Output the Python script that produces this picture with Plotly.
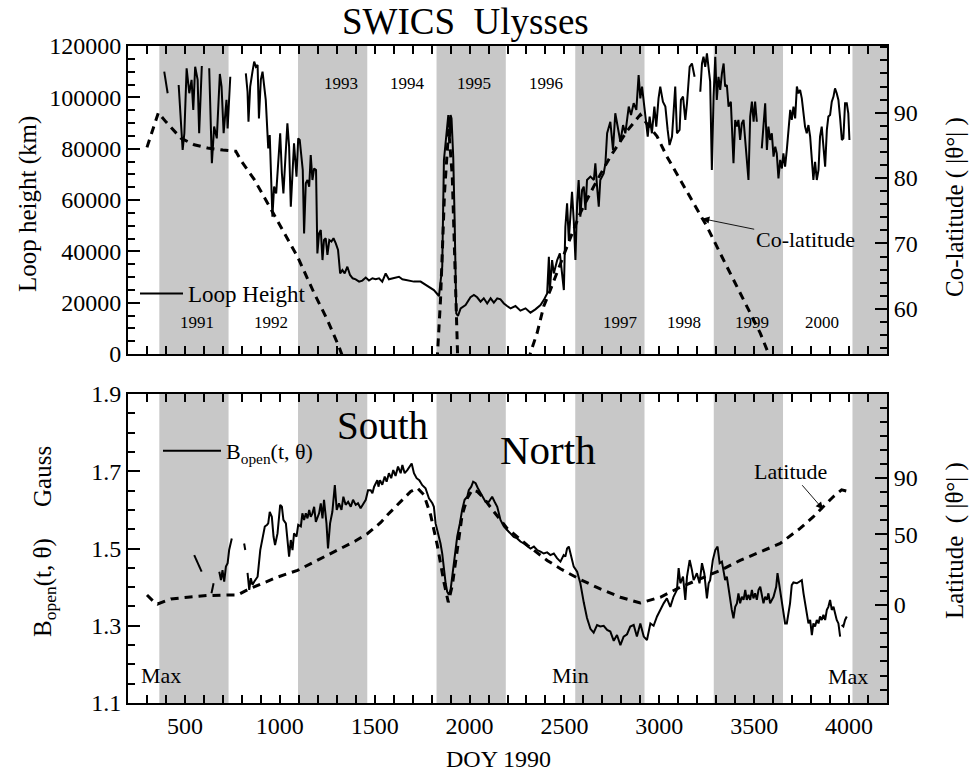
import plotly.graph_objects as go

FONT = "Liberation Serif"
W, H = 970, 774
NB = "\u00a0"

# ---------------- data ----------------
# Loop height (km) vs DOY since 1990 (None = gap)
loop_doy = [391, 409, None,
            467, 479, 488, 497, 509, 523, 535, 544, 554, 567, 575, 589, None,
            628, 642, 654, 668, 684, 693, 704, 719, 725, 739, None,
            821, 830, 835, 844, 856, 865, 874, 883, 890, 900, 909, 918, 926, 939, 947, 961, 970, 981, 991,
            1002, 1011, 1019, 1030, 1040, 1049, 1058, 1067, 1075, 1088, 1097, 1105, 1114, 1121, 1128, 1137,
            1146, 1155, 1163, 1172, 1181, 1191, 1198, 1207, 1216, 1225, 1233, 1242, 1251, 1261, 1272, 1283,
            1295, 1307, 1318, 1330, 1342, 1356, 1370, 1384, 1400, 1418, 1435, 1453, 1470, 1488, 1505, 1523,
            1540, 1558, 1575, 1602, 1628, 1646, 1672, 1707, 1742, 1760, 1786, 1812, 1839, 1856, 1865, 1874,
            1882, 1888, 1897, 1900, 1905, 1914, 1921, 1930, 1939, 1953, 1979, 2005, 2023, 2040, 2058, 2075,
            2093, 2111, 2128, 2146, 2163, 2181, 2198, 2216, 2242, 2268, 2295, 2321, 2347, 2374, 2391, 2409,
            2418, 2423, 2435, 2444, 2453, 2462, 2476, 2488, 2497, 2505, 2514, 2523, 2532, 2540, 2549, 2558,
            2567, 2575, 2584, 2593, 2602, 2611, 2619, 2637, 2655, 2663, 2672, 2681, 2689, 2707, 2716, 2725,
            2742, 2756, 2768, 2781, 2795, 2809, 2821, 2839, 2851, 2865, 2879, 2891, 2900, 2909, 2918, 2930,
            2939, 2949, 2961, 2974, 2984, 2996, 3005, 3019, 3032, 3044, 3054, 3067, 3075, 3084, 3093, 3107,
            3114, 3125, 3137, 3146, 3160, 3172, 3186, None,
            3216, 3225, 3233, 3242, 3251, 3263, 3268, 3277, 3286, 3295, 3303, 3312, 3321, 3330, 3339, 3347,
            3356, 3365, 3377, 3391, 3400, 3409, 3417, 3426, 3435, 3444, 3453, 3461, 3470, 3479, 3488, 3497,
            3505, 3514, None,
            3540, 3549, 3558, 3567, 3575, 3584, 3593, 3602, 3611, 3619, 3628, 3637, 3646, 3654, 3663, 3672,
            3681, 3690, 3698, 3707, 3716, 3725, 3733, 3742, 3751, 3760, 3768, 3777, 3786, 3795, 3804, 3812,
            3821, 3830, 3839, 3847, 3856, 3865, 3874, 3883, 3891, 3900, 3909, 3918, 3926, 3935, 3944, 3953,
            3962, 3970, 3979, 3988, 3996, 4002]
loop_km = [110000, 101600, None,
           104800, 87300, 79500, 86000, 111300, 101600, 106800, 95100, 111900, 106800, 86000, 112200, None,
           111300, 74300, 88600, 84000, 109100, 104200, 86000, 99000, 87900, 108000, None,
           109300, 102200, 90500, 104200, 110000, 113900, 111900, 112600, 91800, 106800, 110000, 102900, 99000, 80100, 85300, 53500, 65200, 62600, 73000,
           86000, 70400, 62600, 76900, 89900, 80800, 57400, 70400, 82100, 69100, 84000, 83400, 75600, 71700, 47000, 66500,
           67800, 65200, 77500, 67800, 72300, 71700, 39200, 47000, 48300, 36600, 44400, 45100, 38600, 44400, 43800, 45100,
           43100, 40500, 31400, 32700, 31400, 34000, 30800, 29500, 29100, 28200, 28600, 29800, 28600, 29500, 29100, 29500,
           28200, 31400, 29100, 29500, 30100, 29100, 28800, 28200, 28200, 27300, 26200, 24900, 22600, 34000, 75600, 82100,
           87300, 93100, 84700, 93100, 91800, 76900, 53500, 15800, 14800, 17800, 19100, 22100, 23000, 22100, 20400, 21700,
           19700, 21700, 20000, 21700, 21300, 19700, 18700, 17800, 18700, 16900, 17800, 16100, 17400, 19100, 21000, 23600,
           37900, 24900, 36600, 31400, 34000, 36600, 39200, 31400, 24900, 49600, 58700, 44400, 53500, 63200, 52200, 36600,
           58700, 67800, 53500, 63900, 65200, 56100, 67800, 69100, 67800, 74300, 65200, 57400, 67800, 70400, 74300, 86000,
           90500, 79500, 93800, 88600, 82700, 89200, 86000, 96400, 93100, 97700, 95100, 108700, 99600, 104200, 97700, 91200,
           84700, 92500, 86000, 96400, 88600, 99600, 104200, 98300, 96400, 87300, 81400, 84700, 92500, 104200, 86000, 87300,
           99000, 100300, 91200, 97700, 111900, 113200, 108000, None,
           102200, 113200, 115800, 111900, 117100, 109300, 106100, 71700, 100300, 115800, 99000, 108000, 102900, 109300, 113200, 104200,
           104800, 96400, 98300, 74300, 91200, 88600, 91200, 83400, 89900, 91200, 82700, 76900, 67800, 92500, 98300, 90500,
           98300, 90500, None,
           80100, 87300, 97700, 79500, 88600, 83400, 86000, 76900, 80800, 78200, 68400, 75600, 72300, 78200, 73000, 79500,
           88600, 95100, 91200, 96400, 91800, 104200, 101600, 102900, 99600, 92500, 88600, 86000, 89200, 84700, 73600, 67800,
           74900, 67800, 71700, 84700, 88600, 80800, 73000, 87300, 92500, 93100, 98300, 100300, 103500, 101600, 99000, 91800,
           83400, 84000, 97700, 97700, 93800, 83400]

# Co-latitude (deg) vs DOY, top panel dashed
colat_doy = [300, 330, 360, 400, 450, 479, 549, 619, 700, 768, 800, 865, 935, 1005, 1093, 1181, 1251, 1312, 1340, None,
             1825, 1847, 1868, 1890, 1909, 1921, 1932, 1940, None,
             2300, 2321, 2356, 2391, 2426, 2462, 2500, 2540, 2584, 2654, 2742, 2830, 2900, 2935, 2988, 3040, 3110,
             3181, 3251, 3321, 3391, 3461, 3532, 3575, 3600]
colat_deg = [84.7, 87.5, 90.0, 88.6, 87.1, 86.1, 85.1, 84.6, 84.3, 84.1, 82.5, 79.8, 76.2, 72.6, 68.0, 62.4, 58.3, 54.2, 52.0, None,
             50.0, 61.4, 77.7, 87.5, 80.3, 67.5, 54.8, 50.0, None,
             50.0, 53.3, 56.3, 60.4, 62.9, 65.5, 68.5, 71.5, 74.7, 78.7, 83.3, 87.2, 89.7, 88.3, 86.4, 83.3, 79.8,
             76.2, 72.6, 68.5, 64.4, 60.4, 56.3, 53.2, 51.0]

# B_open (Gauss) vs DOY, bottom panel solid
bopen_doy = [549, 560, 570, 588, None, 640, 651, None,
             681, 690, 698, 707, 716, 725, 733, 747, None, 812, 818, None,
             830, 839, 847, 856, 865, 883, 897, 909, 921, 932, 939, 947, 958, 967, 975, 988, 1002, 1011, 1019, 1032,
             1040, 1049, 1058, 1067, 1075, 1088, 1097, 1111, 1119, 1128, 1137, 1146, 1155, 1163, 1172, 1181, 1190,
             1198, 1207, 1216, 1225, 1233, 1246, 1254, 1265, 1277, 1290, 1300, 1312, 1325, 1335, 1347, 1360, 1374,
             1386, 1400, 1412, 1426, 1440, 1453, 1465, 1479, 1488, 1497, 1514, 1520, 1528, 1540, 1553, 1563, 1575,
             1587, 1598, 1610, 1623, 1637, 1646, 1658, 1672, 1685, 1695, 1707, 1721, 1735, 1751, 1768, 1786, 1804,
             1812, 1821, 1830, 1839, 1847, 1856, 1865, 1874, 1882, 1891, 1900, 1909, 1918, 1926, 1935, 1949, 1961,
             1974, 1988, 1996, 2009, 2019, 2032, 2044, 2058, 2072, 2084, 2102, 2119, 2132, 2146, 2163, 2181, 2198,
             2216, 2233, 2251, 2268, 2286, 2304, 2321, 2339, 2356, 2374, 2391, 2409, 2426, 2444, 2461, 2479, 2496,
             2505, 2514, 2523, 2535, 2549, 2567, 2584, 2602, 2619, 2637, 2654, 2672, 2689, 2707, 2725, 2742, 2760,
             2777, 2795, 2812, 2830, 2847, 2865, 2882, 2900, 2918, 2935, 2953, 2970, 2988, 3005, 3023, 3040, 3058,
             3075, 3093, 3102, 3111, 3125, 3137, 3146, 3160, 3172, 3181, 3190, 3198, 3212, 3225, 3237, 3251, 3260,
             3268, 3282, 3295, 3307, 3318, 3330, 3339, 3347, 3356, 3365, 3374, 3382, 3391, 3400, 3409, 3417, 3426,
             3435, 3444, 3453, 3461, 3470, 3479, 3488, 3496, 3505, 3514, 3523, 3532, 3540, 3549, 3558, 3567, 3575,
             3584, 3602, 3616, 3623, 3637, 3651, 3663, 3672, 3689, 3698, 3707, 3725, 3742, 3751, 3760, 3768, 3777,
             3786, 3795, 3804, 3812, 3821, 3830, 3839, 3847, 3856, 3865, 3874, 3883, 3891, 3900, 3909, 3918, 3926,
             3935, 3944, 3953, None, 3961, 3970, 3979, 3988]
bopen_gauss = [1.483, 1.470, 1.462, 1.440, None, 1.384, 1.410, None,
               1.440, 1.418, 1.444, 1.414, 1.453, 1.462, 1.496, 1.526, None, 1.513, 1.496, None,
               1.437, 1.393, 1.423, 1.406, 1.414, 1.427, 1.496, 1.531, 1.557, 1.561, 1.565, 1.595, 1.582, 1.531, 1.509, 1.539, 1.613, 1.608, 1.574, 1.565,
               1.531, 1.479, 1.522, 1.496, 1.539, 1.531, 1.561, 1.557, 1.591, 1.574, 1.591, 1.578, 1.600, 1.582, 1.591, 1.608, 1.569,
               1.582, 1.591, 1.617, 1.578, 1.626, 1.565, 1.500, 1.565, 1.595, 1.664, 1.600, 1.617, 1.600, 1.634, 1.613, 1.621, 1.608,
               1.626, 1.613, 1.617, 1.604, 1.617, 1.626, 1.651, 1.651, 1.643, 1.660, 1.677, 1.660, 1.677, 1.665, 1.686, 1.673, 1.695,
               1.682, 1.703, 1.688, 1.712, 1.695, 1.716, 1.695, 1.703, 1.712, 1.720, 1.695, 1.682, 1.677, 1.664, 1.656, 1.630, 1.617,
               1.608, 1.565, 1.548, 1.531, 1.513, 1.487, 1.444, 1.410, 1.388, 1.380, 1.393, 1.427, 1.462, 1.496, 1.531, 1.565, 1.600,
               1.626, 1.634, 1.651, 1.660, 1.673, 1.669, 1.656, 1.643, 1.634, 1.621, 1.621, 1.634, 1.621, 1.608, 1.574, 1.557, 1.548,
               1.539, 1.530, 1.526, 1.518, 1.513, 1.505, 1.500, 1.505, 1.496, 1.492, 1.487, 1.490, 1.483, 1.487, 1.475, 1.466, 1.483,
               1.479, 1.500, 1.505, 1.479, 1.453, 1.440, 1.410, 1.360, 1.320, 1.292, 1.282, 1.302, 1.298, 1.300, 1.289, 1.285, 1.261,
               1.276, 1.250, 1.272, 1.278, 1.298, 1.302, 1.272, 1.306, 1.272, 1.263, 1.306, 1.300, 1.324, 1.341, 1.358, 1.371, 1.349,
               1.375, 1.393, 1.449, 1.410, 1.427, 1.367, 1.427, 1.470, 1.444, 1.418, 1.427, 1.436, 1.410, 1.462, 1.436, 1.371, 1.410,
               1.418, 1.470, 1.496, 1.505, 1.462, 1.466, 1.444, 1.418, 1.427, 1.393, 1.367, 1.341, 1.319, 1.349, 1.358, 1.384, 1.358,
               1.375, 1.367, 1.393, 1.367, 1.380, 1.367, 1.393, 1.371, 1.384, 1.367, 1.393, 1.401, 1.375, 1.358, 1.375, 1.367, 1.384,
               1.358, 1.375, 1.401, 1.436, 1.393, 1.349, 1.306, 1.306, 1.358, 1.405, 1.412, 1.410, 1.414, 1.418, 1.384, 1.358, 1.324,
               1.306, 1.315, 1.276, 1.306, 1.298, 1.315, 1.306, 1.324, 1.315, 1.328, 1.315, 1.341, 1.349, 1.367, 1.341, 1.349, 1.332,
               1.315, 1.306, 1.272, None, 1.302, 1.298, 1.315, 1.324]

# Heliographic latitude (|deg|) vs DOY, bottom panel dashed
lat_doy = [300, 330, 356, 426, 514, 619, 725, 777, 839, 900, 988, 1093, 1216, 1321, 1400, 1461, 1532, 1567, 1637,
           1690, 1725, 1760, 1795, 1830, 1865, 1888, 1909, 1935, 1961, 1988, 2014, 2040, 2075, 2128, 2198, 2304,
           2409, 2479, 2584, 2689, 2795, 2900, 3005, 3111, 3216, 3321, 3426, 3532, 3637, 3742, 3812, 3865, 3918,
           3961, 3996]
lat_deg = [7.1, 3.1, 0.7, 4.3, 5.5, 6.7, 7.1, 7.1, 11.4, 15.0, 19.8, 24.5, 32.9, 40.0, 45.5, 50.5, 58.5, 63.8, 73.3,
           80.5, 82.9, 78.0, 63.8, 42.4, 16.2, 1.9, 13.8, 40.0, 63.8, 75.7, 81.6, 80.5, 75.7, 66.2, 54.3, 42.4,
           31.6, 25.7, 18.0, 11.4, 5.5, 1.4, 5.5, 12.6, 18.6, 24.5, 31.6, 37.6, 43.6, 54.3, 62.6, 69.8, 76.9,
           81.6, 80.5]

# shaded (odd) years: start/end DOY
band_start = [365, 1096, 1826, 2557, 3287, 4018]
band_end = [730, 1461, 2191, 2922, 3652, 4383]

top_year_labels = ["1993", "1994", "1995", "1996"]
top_year_doy = [1321, 1674, 2021, 2405]
low_year_labels = ["1991", "1992", "1997", "1998", "1999", "2000"]
low_year_doy = [563, 953, 2795, 3132, 3489, 3858]

X_RANGE = [200, 4200]

# ---------------- figure ----------------
fig = go.Figure()

fig.add_trace(go.Scatter(x=loop_doy, y=loop_km, mode="lines", name="Loop Height",
                         line=dict(color="black", width=2), xaxis="x", yaxis="y",
                         connectgaps=False, legend="legend"))
fig.add_trace(go.Scatter(x=colat_doy, y=colat_deg, mode="lines", showlegend=False,
                         line=dict(color="black", width=3, dash="8px,6px"), xaxis="x", yaxis="y2",
                         connectgaps=False))
fig.add_trace(go.Scatter(x=bopen_doy, y=bopen_gauss, mode="lines", name="B<sub>open</sub>(t, θ)",
                         line=dict(color="black", width=2), xaxis="x2", yaxis="y3",
                         connectgaps=False, legend="legend2"))
fig.add_trace(go.Scatter(x=lat_doy, y=lat_deg, mode="lines", showlegend=False,
                         line=dict(color="black", width=3, dash="8px,6px"), xaxis="x2", yaxis="y4",
                         connectgaps=False))

xdom = [128 / W, 887 / W]
top_dom = [1 - 354 / H, 1 - 46 / H]
bot_dom = [1 - 703 / H, 1 - 394 / H]

tickfont = dict(family=FONT, size=24, color="black")
common = dict(showline=True, linecolor="black", linewidth=2, ticks="inside", tickcolor="black",
              tickwidth=1.5, showgrid=False, zeroline=False, tickfont=tickfont, automargin=False)

def minor(d, ln=7):
    return dict(dtick=d, ticks="inside", ticklen=ln, tickcolor="black", tickwidth=1.5, showgrid=False)

fig.update_layout(
    width=W, height=H, margin=dict(l=0, r=0, t=0, b=0, pad=0), autosize=False,
    paper_bgcolor="white", plot_bgcolor="white",
    font=dict(family=FONT, color="black"),
    xaxis=dict(domain=xdom, range=X_RANGE, anchor="y", mirror="allticks", tick0=0, dtick=500,
               ticklen=8, minor=minor(100, 7), showticklabels=False, **common),
    yaxis=dict(domain=top_dom, range=[0, 120000], anchor="x", dtick=20000, ticklen=12,
               tickformat="d", minor=minor(5000), **common),
    yaxis2=dict(range=[53.1, 100.2], overlaying="y", anchor="x", side="right",
                tickvals=[60, 70, 80, 90], ticklen=12, minor=minor(2), **common),
    xaxis2=dict(domain=xdom, range=X_RANGE, anchor="y3", mirror="allticks", tick0=0, dtick=500,
                ticklen=8, minor=minor(100, 7), **common),
    yaxis3=dict(domain=bot_dom, range=[1.1, 1.9], anchor="x2", tick0=1.1, dtick=0.2, ticklen=12,
                minor=minor(0.05), tickformat=".1f", **common),
    yaxis4=dict(range=[-69.5, 149.6], overlaying="y3", anchor="x2", side="right",
                tickvals=[0, 50, 90], ticklen=12, minor=minor(10), **common),
    legend=dict(x=135 / W, y=1 - 272 / H, xanchor="left", yanchor="top", bgcolor="rgba(0,0,0,0)",
                itemwidth=43, font=dict(family=FONT, size=23, color="black")),
    legend2=dict(x=158 / W, y=1 - 430 / H, xanchor="left", yanchor="top", bgcolor="rgba(0,0,0,0)",
                 itemwidth=58, font=dict(family=FONT, size=22, color="black")),
)

shapes = []
for s, e in zip(band_start, band_end):
    for xr, yr in (("x", "y domain"), ("x2", "y3 domain")):
        shapes.append(dict(type="rect", xref=xr, yref=yr, x0=s, x1=min(e, X_RANGE[1]), y0=0, y1=1,
                           fillcolor="#c8c8c8", line=dict(width=0), layer="below"))
fig.update_layout(shapes=shapes)

ann = []
def txt(x, y, s, size, xref="paper", yref="paper", angle=0):
    ann.append(dict(x=x, y=y, xref=xref, yref=yref, text=s, showarrow=False, textangle=angle,
                    xanchor="center", yanchor="middle",
                    font=dict(family=FONT, size=size, color="black")))

txt(465 / W, 1 - 21 / H, "SWICS" + NB * 2 + "Ulysses", 37)
for lab, d in zip(top_year_labels, top_year_doy):
    txt(d, 1 - 84 / H, lab, 17, xref="x")
for lab, d in zip(low_year_labels, low_year_doy):
    txt(d, 1 - 323 / H, lab, 17, xref="x")
txt(28 / W, 1 - 204 / H, "Loop height (km)", 25, angle=-90)
txt(955 / W, 1 - 207 / H, "Co-latitude ( |θ°| )", 25, angle=-90)
txt(44 / W, 1 - 542 / H, "B<sub>open</sub>(t, θ)" + NB * 5 + "Gauss", 25, angle=-90)
txt(955 / W, 1 - 541 / H, "Latitude" + NB * 2 + "( |θ°| )", 25, angle=-90)
txt(499 / W, 1 - 759 / H, "DOY 1990", 24)
txt(382 / W, 1 - 425 / H, "South", 39)
txt(548 / W, 1 - 450 / H, "North", 41)
txt(161 / W, 1 - 675 / H, "Max", 22)
txt(570 / W, 1 - 675 / H, "Min", 22)
txt(848 / W, 1 - 676 / H, "Max", 22)

ann.append(dict(x=3226, y=73.8, xref="x", yref="y2", ax=103, ay=21, text="Co-latitude",
                showarrow=True, arrowhead=2, arrowsize=1.6, arrowwidth=0.9, arrowcolor="black",
                font=dict(family=FONT, size=22, color="black")))
ann.append(dict(x=3863, y=67.9, xref="x2", yref="y4", ax=-33, ay=-38, text="Latitude",
                showarrow=True, arrowhead=2, arrowsize=1.6, arrowwidth=0.9, arrowcolor="black",
                font=dict(family=FONT, size=22, color="black")))
fig.update_layout(annotations=ann)

fig.write_html("out.html")
